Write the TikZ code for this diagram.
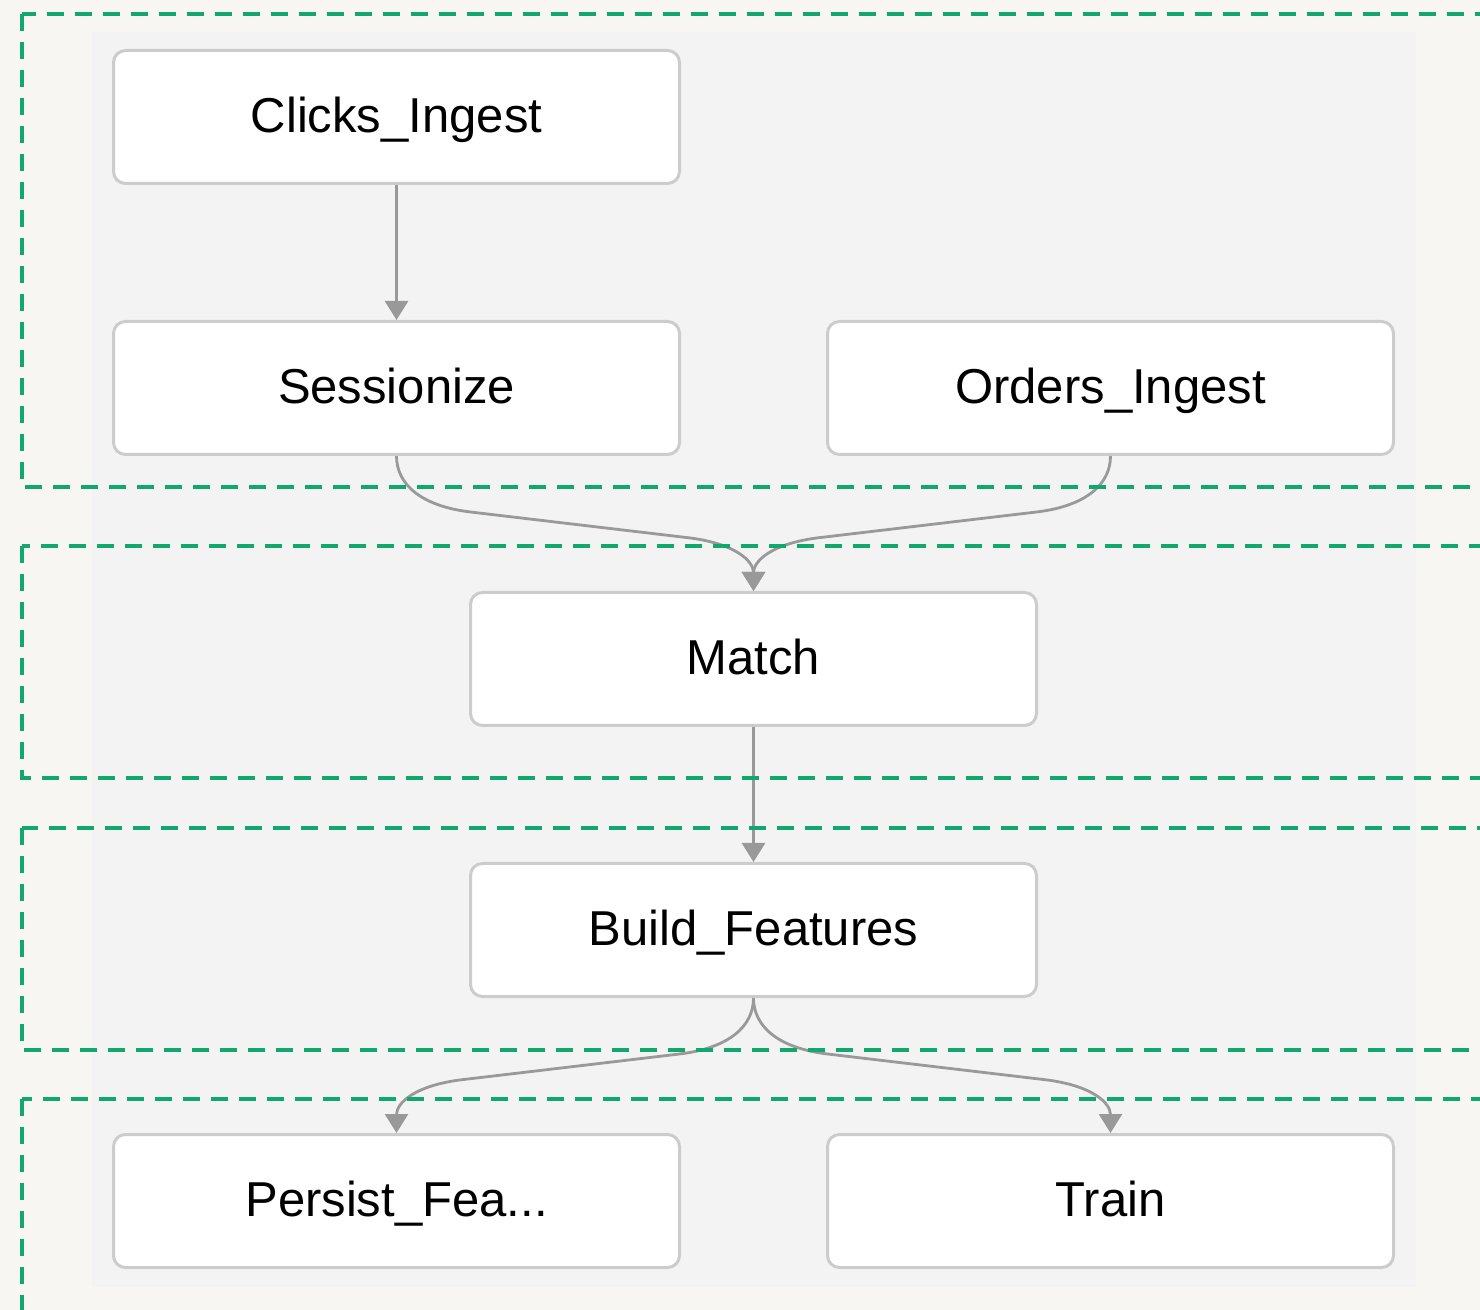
\documentclass[tikz,border=0pt]{standalone}
\usepackage{fontspec}
\setmainfont{Liberation Sans}
\usetikzlibrary{arrows.meta}
\definecolor{bgc}{HTML}{F7F6F3}
\definecolor{panelc}{HTML}{F3F3F3}
\definecolor{grp}{RGB}{16,168,110}
\definecolor{edgec}{HTML}{999999}
\definecolor{nodeb}{HTML}{CCCCCC}
\begin{document}
\begin{tikzpicture}[x=0.5pt,y=-0.5pt,
 task/.style={draw=nodeb, line width=1.5pt, fill=white, rounded corners=6pt,
   minimum width=283pt, minimum height=66.5pt, inner sep=0pt,
   text height=17.5pt, text depth=2pt,
   font=\fontsize{24.5pt}{29pt}\selectfont, text=black},
 edge/.style={draw=edgec, line width=1.4pt, -{Triangle[length=9.5pt,width=11.5pt]}},
 grpbox/.style={draw=grp, line width=1.75pt, dash pattern=on 8.5pt off 5.5pt}]
\useasboundingbox (0,0) rectangle (1480,1310);
\clip (0,0) rectangle (1480,1310);
\fill[bgc] (0,0) rectangle (1480,1310);
\fill[panelc] (92,32) rectangle (1416,1287);
% nodes
\node[task] (clicks)  at (396.5,117)  {Clicks\_Ingest};
\node[task] (sess)    at (396.5,388)  {Sessionize};
\node[task] (orders)  at (1110.5,388) {Orders\_Ingest};
\node[task] (match)   at (753.5,659)  {Match};
\node[task] (build)   at (753.5,930)  {Build\_Features};
\node[task] (persist) at (396.5,1201) {Persist\_Fea...};
\node[task] (train)   at (1110.5,1201){Train};
% edges
\draw[edge] (clicks) -- (sess);
\draw[edge] (match) -- (build);
\draw[edge] (sess.south) .. controls +(0,28) and +(-50,-6) .. ++(74,56)
   -- ++(220,26) .. controls +(45,6) and +(0,-30) .. (match.north);
\draw[edge] (orders.south) .. controls +(0,28) and +(50,-6) .. ++(-74,56)
   -- ++(-220,26) .. controls +(-45,6) and +(0,-30) .. (match.north);
\draw[edge] (build.south) .. controls +(0,28) and +(50,-6) .. ++(-74,56)
   -- ++(-220,26) .. controls +(-45,6) and +(0,-30) .. (persist.north);
\draw[edge] (build.south) .. controls +(0,28) and +(-50,-6) .. ++(74,56)
   -- ++(220,26) .. controls +(45,6) and +(0,-30) .. (train.north);
% group boxes
\draw[grpbox] (22,14) rectangle (1530,487);
\draw[grpbox] (22,546) rectangle (1530,778);
\draw[grpbox] (22,828) rectangle (1530,1050);
\draw[grpbox] (22,1099) rectangle (1530,1360);
\end{tikzpicture}
\end{document}
